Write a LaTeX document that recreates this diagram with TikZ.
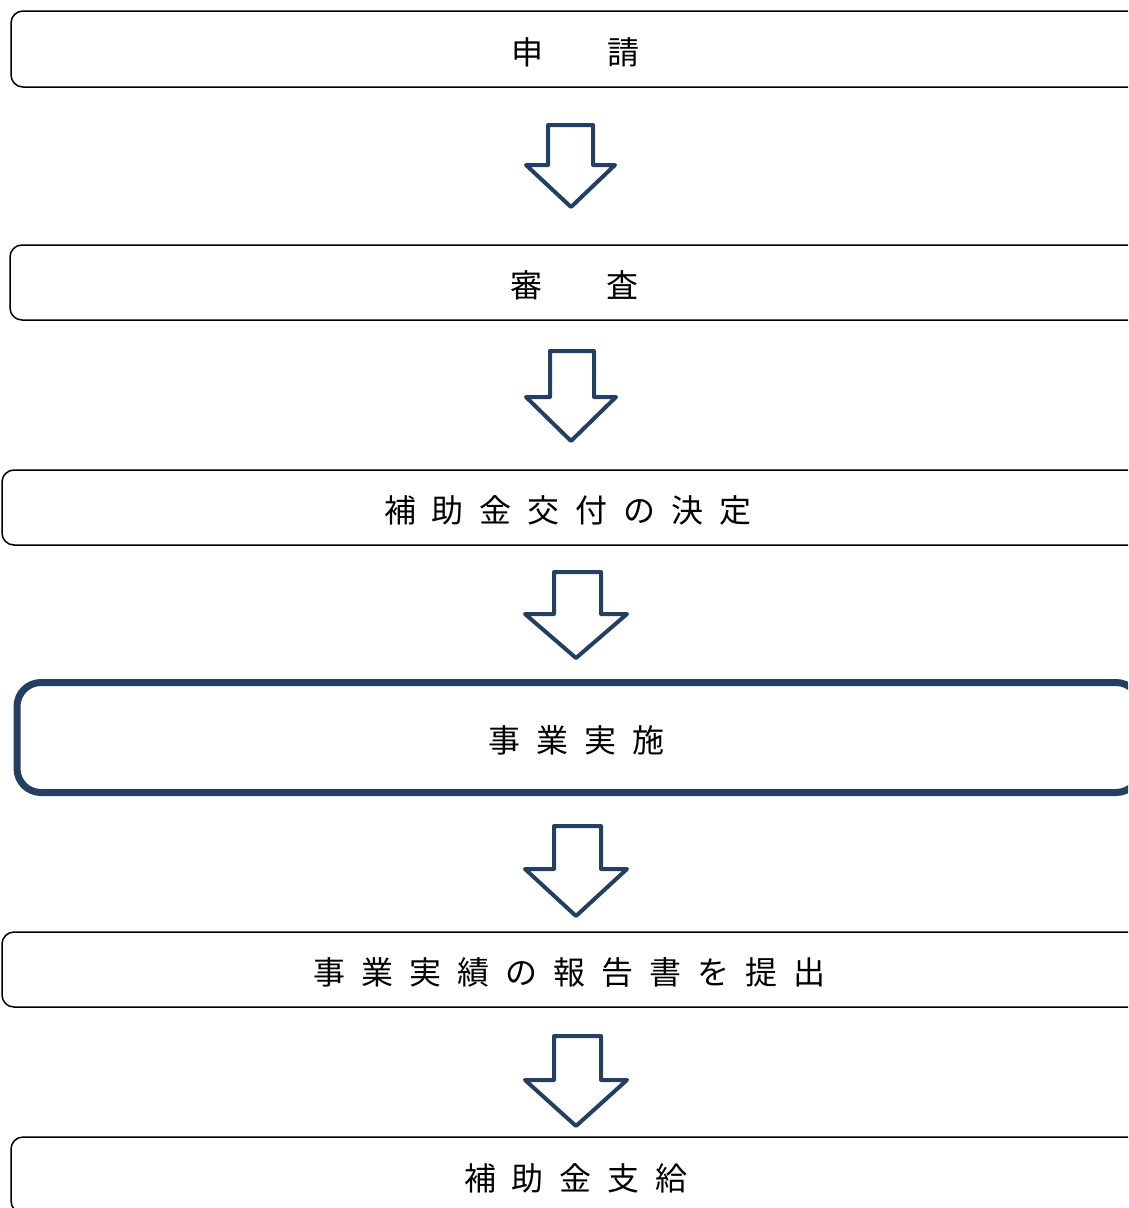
\documentclass[tikz,border=0pt]{standalone}
\usepackage{fontspec}
\newfontfamily\cjk{Noto Sans CJK JP}
\definecolor{arrowblue}{HTML}{243F60}
\newcommand{\gp}{\hspace{16pt}}
\newcommand{\wgp}{\hspace{64pt}}
\begin{document}
\begin{tikzpicture}[x=1pt,y=-1pt,
  stepbox/.style={draw=black,line width=1.5pt,rounded corners=12pt,font=\cjk\fontsize{32}{32}\selectfont,inner sep=0pt,text height=34pt,text depth=4pt},
  bigbox/.style={draw=arrowblue,line width=7pt,rounded corners=24pt,font=\cjk\fontsize{32}{32}\selectfont,inner sep=0pt,text height=34pt,text depth=4pt},
  downarrow/.style={draw=arrowblue,line width=4pt,line join=round,fill=white}]
\useasboundingbox (0,0) rectangle (1128,1208);
\clip (0,0) rectangle (1128,1208);
\node[stepbox,minimum width=1134pt,minimum height=76pt] (b1) at (578,49) {\hspace{-6pt}申\wgp 請};
\node[stepbox,minimum width=1135pt,minimum height=75pt] (b2) at (577.5,282.5) {\hspace{-6pt}審\wgp 査};
\node[stepbox,minimum width=1141pt,minimum height=75pt] (b3) at (572.5,507.5) {\hspace{-9pt}補\gp 助\gp 金\gp 交\gp 付\gp の\gp 決\gp 定};
\node[bigbox,minimum width=1123pt,minimum height=110pt] (b4) at (578.5,737.5) {\hspace{-4pt}事\gp 業\gp 実\gp 施};
\node[stepbox,minimum width=1141pt,minimum height=75pt] (b5) at (572.5,969.5) {\hspace{-6pt}事\gp 業\gp 実\gp 績\gp の\gp 報\gp 告\gp 書\gp を\gp 提\gp 出};
\node[stepbox,minimum width=1134pt,minimum height=76pt] (b6) at (578,1175) {\hspace{-4pt}補\gp 助\gp 金\gp 支\gp 給};
% arrows between boxes
\draw[downarrow] (548,125) -- (593,125) -- (593,165) -- (615,165) -- (571,207) -- (526,165) -- (548,165) -- cycle;
\draw[downarrow] (550,351) -- (594,351) -- (594,397) -- (616,397) -- (571,441) -- (526,397) -- (550,397) -- cycle;
\draw[downarrow] (554,572) -- (601,572) -- (601,614) -- (627,614) -- (576,658) -- (525,614) -- (554,614) -- cycle;
\draw[downarrow] (554,826) -- (601,826) -- (601,869) -- (627,869) -- (576,916) -- (525,869) -- (554,869) -- cycle;
\draw[downarrow] (554,1036) -- (601,1036) -- (601,1080) -- (627,1080) -- (576,1126) -- (525,1080) -- (554,1080) -- cycle;
\end{tikzpicture}
\end{document}
